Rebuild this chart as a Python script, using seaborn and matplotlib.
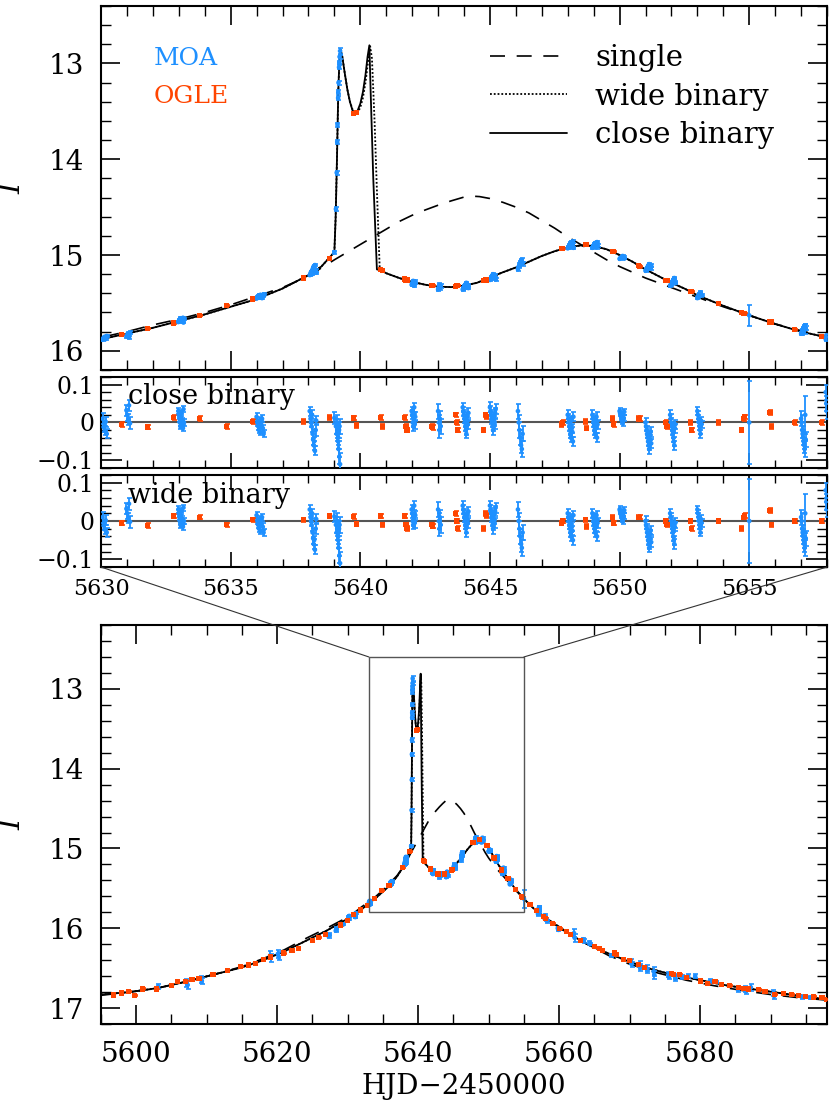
import matplotlib
matplotlib.use("Agg")
import matplotlib.pyplot as plt
from matplotlib.patches import Rectangle, ConnectionPatch
from matplotlib.ticker import MultipleLocator, FuncFormatter
import seaborn as sns

MOA_COLOR = "#1e90ff"
OGLE_COLOR = "#ff4500"

# ---- model light curves (HJD-2450000, I mag) -------------------------------
single_t = [5595, 5599, 5603, 5607, 5611, 5615, 5618, 5621, 5624, 5627,
            5630, 5631, 5632, 5633, 5634, 5635, 5636, 5637, 5638, 5639,
            5640, 5641, 5641.5, 5642, 5642.5, 5643, 5643.5, 5644, 5644.3, 5644.6,
            5645, 5645.5, 5646, 5646.5, 5647, 5647.5, 5648, 5648.5, 5649, 5649.5,
            5650, 5651, 5652, 5653, 5654, 5655, 5656, 5657, 5658, 5661,
            5664, 5667, 5670, 5674, 5678, 5682, 5686, 5690, 5694, 5698]
single_mag = [16.84, 16.80, 16.75, 16.67, 16.58, 16.48, 16.38, 16.27, 16.13, 16.00,
              15.86, 15.80, 15.73, 15.67, 15.60, 15.52, 15.43, 15.34, 15.22, 15.05,
              14.89, 14.73, 14.65, 14.585, 14.53, 14.48, 14.435, 14.395, 14.385, 14.39,
              14.41, 14.45, 14.50, 14.56, 14.64, 14.72, 14.81, 14.89, 14.97, 15.05,
              15.12, 15.24, 15.34, 15.44, 15.54, 15.63, 15.72, 15.79, 15.86, 16.04,
              16.20, 16.34, 16.45, 16.56, 16.65, 16.72, 16.78, 16.83, 16.87, 16.90]

close_t = [5595, 5599, 5603, 5607, 5611, 5615, 5618, 5621, 5624, 5627,
           5630, 5631, 5632, 5633, 5634, 5635, 5636, 5637, 5638, 5638.5,
           5639.0, 5639.05, 5639.1, 5639.15, 5639.2, 5639.23, 5639.3, 5639.4, 5639.5, 5639.6,
           5639.7, 5639.8, 5639.9, 5640.0, 5640.1, 5640.2, 5640.28, 5640.35, 5640.4, 5640.5,
           5640.64, 5640.8, 5641, 5641.5, 5642, 5642.5, 5643, 5643.5, 5644, 5644.5,
           5645, 5645.5, 5646, 5646.5, 5647, 5647.5, 5648, 5648.5, 5649, 5649.5,
           5650, 5650.5, 5651, 5651.5, 5652, 5652.5, 5653, 5654, 5655, 5656,
           5657, 5658, 5660, 5662, 5664, 5666, 5668, 5670, 5673, 5676,
           5680, 5684, 5688, 5692, 5695, 5698]
close_mag = [16.83, 16.80, 16.75, 16.67, 16.58, 16.49, 16.40, 16.29, 16.16, 16.03,
             15.88, 15.82, 15.76, 15.69, 15.62, 15.54, 15.46, 15.35, 15.21, 15.12,
             14.97, 14.60, 14.00, 13.30, 12.92, 12.85, 12.92, 13.10, 13.27, 13.40,
             13.49, 13.52, 13.49, 13.42, 13.30, 13.12, 12.93, 12.81, 13.30, 14.20,
             15.15, 15.16, 15.19, 15.24, 15.28, 15.31, 15.33, 15.335, 15.32, 15.29,
             15.235, 15.18, 15.13, 15.07, 15.01, 14.96, 14.92, 14.90, 14.905, 14.94,
             15.00, 15.07, 15.15, 15.22, 15.29, 15.35, 15.42, 15.53, 15.63, 15.72,
             15.80, 15.86, 15.99, 16.10, 16.20, 16.28, 16.35, 16.42, 16.51, 16.58,
             16.65, 16.72, 16.77, 16.82, 16.86, 16.89]

# wide binary only departs from the close one across the caustic
wide_caustic_t = [5639.0, 5639.05, 5639.1, 5639.15, 5639.2, 5639.24, 5639.3, 5639.4, 5639.5, 5639.6,
                  5639.7, 5639.8, 5639.9, 5640.0, 5640.1, 5640.2, 5640.3, 5640.38, 5640.45, 5640.55,
                  5640.65, 5640.75, 5640.9]
wide_caustic_mag = [14.97, 14.60, 14.00, 13.30, 12.93, 12.86, 12.92, 13.10, 13.27, 13.40,
                    13.48, 13.52, 13.51, 13.46, 13.36, 13.20, 12.98, 12.82, 12.95, 13.60,
                    14.40, 15.15, 15.17]

# ---- MOA data inside the zoom window (5630-5658) ---------------------------
moa_t = [5630.06, 5630.10, 5630.14, 5630.18, 5630.22,
         5630.98, 5631.02, 5631.05, 5631.08, 5631.12,
         5632.98, 5633.00, 5633.02, 5633.04, 5633.06, 5633.08, 5633.10, 5633.12, 5633.14, 5633.16, 5633.18, 5633.20,
         5636.00, 5636.03, 5636.06, 5636.09, 5636.12, 5636.15, 5636.18, 5636.21, 5636.24, 5636.27,
         5638.05, 5638.08, 5638.10, 5638.12, 5638.14, 5638.16, 5638.18, 5638.20, 5638.22, 5638.25, 5638.28, 5638.30,
         5639.00, 5639.06, 5639.09, 5639.11, 5639.12, 5639.145, 5639.15, 5639.16, 5639.18, 5639.19, 5639.20, 5639.22,
         5641.98, 5642.00, 5642.02, 5642.04, 5642.06, 5642.08, 5642.10, 5642.12,
         5643.00, 5643.03, 5643.05, 5643.07, 5643.10,
         5643.95, 5643.97, 5643.99, 5644.01, 5644.03, 5644.05, 5644.07, 5644.09, 5644.11, 5644.13, 5644.15, 5644.17,
         5645.00, 5645.02, 5645.04, 5645.06, 5645.08, 5645.10, 5645.12, 5645.14, 5645.16, 5645.18, 5645.20, 5645.22,
         5646.08, 5646.11, 5646.14, 5646.17, 5646.20, 5646.23, 5646.26,
         5648.00, 5648.02, 5648.04, 5648.06, 5648.08, 5648.10, 5648.12, 5648.14, 5648.16, 5648.18, 5648.20, 5648.22,
         5648.95, 5648.97, 5648.99, 5649.01, 5649.03, 5649.05, 5649.07, 5649.09, 5649.11, 5649.13, 5649.15,
         5650.00, 5650.02, 5650.04, 5650.06, 5650.08, 5650.10, 5650.12, 5650.14, 5650.16, 5650.18,
         5651.00, 5651.02, 5651.04, 5651.06, 5651.08, 5651.10, 5651.12, 5651.14, 5651.16, 5651.18, 5651.20, 5651.22,
         5651.95, 5651.97, 5651.99, 5652.01, 5652.03, 5652.05, 5652.07, 5652.09, 5652.11, 5652.13, 5652.15,
         5653.00, 5653.02, 5653.04, 5653.06, 5653.08, 5653.10, 5653.12, 5653.14, 5653.16,
         5655.00,
         5657.00, 5657.02, 5657.04, 5657.06, 5657.08, 5657.10, 5657.12, 5657.14, 5657.16, 5657.18,
         5657.95, 5657.97, 5657.99]
moa_mag = [15.885, 15.863, 15.853, 15.877, 15.845,
           15.85, 15.84, 15.82, 15.86, 15.81,
           15.70, 15.69, 15.68, 15.67, 15.66, 15.685, 15.695, 15.665, 15.675, 15.655, 15.705, 15.67,
           15.455, 15.44, 15.43, 15.42, 15.445, 15.415, 15.435, 15.45, 15.425, 15.41,
           15.21, 15.19, 15.18, 15.17, 15.20, 15.15, 15.135, 15.12, 15.13, 15.105, 15.16, 15.185,
           14.97, 14.52, 14.14, 13.82, 13.64, 13.36, 13.30, 13.20, 13.04, 12.99, 12.93, 12.87,
           15.31, 15.30, 15.28, 15.27, 15.29, 15.32, 15.275, 15.295,
           15.36, 15.33, 15.31, 15.34, 15.32,
           15.36, 15.35, 15.34, 15.33, 15.32, 15.31, 15.30, 15.29, 15.335, 15.325, 15.315, 15.345,
           15.26, 15.25, 15.24, 15.23, 15.22, 15.21, 15.20, 15.235, 15.225, 15.215, 15.245, 15.255,
           15.15, 15.12, 15.10, 15.08, 15.06, 15.05, 15.09,
           14.93, 14.92, 14.91, 14.90, 14.89, 14.88, 14.87, 14.915, 14.895, 14.885, 14.86, 14.925,
           14.925, 14.915, 14.905, 14.895, 14.885, 14.875, 14.91, 14.89, 14.92, 14.865, 14.90,
           15.04, 15.035, 15.03, 15.025, 15.02, 15.015, 15.01, 15.03, 15.022, 15.038,
           15.165, 15.155, 15.145, 15.135, 15.125, 15.115, 15.105, 15.095, 15.13, 15.12, 15.14, 15.11,
           15.32, 15.31, 15.30, 15.29, 15.28, 15.27, 15.26, 15.25, 15.24, 15.285, 15.295,
           15.45, 15.44, 15.43, 15.42, 15.41, 15.40, 15.39, 15.425, 15.415,
           15.63,
           15.82, 15.81, 15.79, 15.78, 15.77, 15.76, 15.75, 15.74, 15.775, 15.765,
           15.88, 15.86, 15.84]
moa_err = [0.014, 0.012, 0.012, 0.013, 0.012,
           0.015, 0.016, 0.014, 0.015, 0.016,
           0.008, 0.008, 0.008, 0.008, 0.008, 0.008, 0.008, 0.008, 0.008, 0.008, 0.008, 0.008,
           0.009, 0.009, 0.009, 0.009, 0.009, 0.009, 0.009, 0.009, 0.009, 0.009,
           0.012, 0.012, 0.012, 0.015, 0.012, 0.012, 0.015, 0.012, 0.012, 0.012, 0.015, 0.012,
           0.015, 0.020, 0.020, 0.020, 0.020, 0.020, 0.020, 0.020, 0.020, 0.020, 0.020, 0.030,
           0.012, 0.012, 0.012, 0.012, 0.012, 0.012, 0.012, 0.012,
           0.020, 0.020, 0.020, 0.020, 0.020,
           0.012, 0.012, 0.012, 0.012, 0.012, 0.012, 0.012, 0.012, 0.012, 0.012, 0.012, 0.012,
           0.013, 0.013, 0.013, 0.013, 0.013, 0.013, 0.013, 0.013, 0.013, 0.013, 0.013, 0.013,
           0.020, 0.020, 0.020, 0.020, 0.020, 0.020, 0.020,
           0.012, 0.012, 0.012, 0.012, 0.012, 0.012, 0.012, 0.012, 0.012, 0.012, 0.012, 0.012,
           0.012, 0.012, 0.012, 0.012, 0.012, 0.012, 0.012, 0.012, 0.012, 0.012, 0.012,
           0.008, 0.008, 0.008, 0.008, 0.008, 0.008, 0.008, 0.008, 0.008, 0.008,
           0.012, 0.012, 0.012, 0.012, 0.012, 0.012, 0.012, 0.012, 0.012, 0.012, 0.012, 0.012,
           0.012, 0.012, 0.012, 0.012, 0.012, 0.012, 0.012, 0.012, 0.012, 0.012, 0.012,
           0.010, 0.010, 0.010, 0.010, 0.010, 0.010, 0.010, 0.010, 0.010,
           0.110,
           0.020, 0.020, 0.020, 0.020, 0.020, 0.020, 0.020, 0.020, 0.050, 0.020,
           0.020, 0.020, 0.020]
# residuals (the close and wide fits leave nearly identical residuals)
moa_res = [0.010, -0.012, -0.022, 0.002, -0.030,
           0.032, 0.020, 0.008, 0.045, -0.002,
           0.030, 0.020, 0.010, 0.000, -0.010, 0.015, 0.025, -0.005, 0.005, -0.015, 0.035, 0.000,
           0.015, 0.000, -0.010, -0.020, 0.005, -0.025, -0.005, 0.010, -0.015, -0.030,
           0.030, 0.010, 0.000, -0.010, 0.020, -0.030, -0.045, -0.060, -0.050, -0.075, -0.020, 0.005,
           0.012, -0.010, -0.030, -0.020, 0.000, -0.050, -0.040, -0.070, -0.020, -0.090, -0.010, -0.110,
           0.030, 0.020, 0.000, -0.010, 0.010, 0.040, -0.005, 0.015,
           0.030, 0.000, -0.020, 0.010, -0.010,
           0.040, 0.030, 0.020, 0.010, 0.000, -0.010, -0.020, -0.030, 0.015, 0.005, -0.005, 0.025,
           0.040, 0.030, 0.020, 0.010, 0.000, -0.010, -0.020, 0.015, 0.005, -0.005, 0.025, 0.035,
           0.030, 0.000, -0.020, -0.040, -0.060, -0.070, -0.030,
           0.020, 0.010, 0.000, -0.010, -0.020, -0.030, -0.040, 0.005, -0.015, -0.025, -0.050, 0.015,
           0.020, 0.010, 0.000, -0.010, -0.020, -0.030, 0.005, -0.015, 0.015, -0.040, -0.005,
           0.030, 0.025, 0.020, 0.015, 0.010, 0.005, 0.000, 0.020, 0.012, 0.028,
           0.000, -0.010, -0.020, -0.030, -0.040, -0.050, -0.060, -0.070, -0.035, -0.045, -0.025, -0.055,
           0.020, 0.010, 0.000, -0.010, -0.020, -0.030, -0.040, -0.050, -0.060, -0.015, -0.005,
           0.030, 0.020, 0.010, 0.000, -0.010, -0.020, -0.030, 0.005, -0.005,
           0.000,
           0.010, 0.000, -0.020, -0.030, -0.040, -0.050, -0.060, -0.070, 0.020, -0.045,
           0.080, 0.050, 0.030]

# ---- MOA data outside the zoom window --------------------------------------
moa_far_t = [5603.1, 5607.1, 5607.3, 5609.2, 5609.3, 5619.0, 5619.1, 5620.1, 5620.2, 5627.3,
             5627.4, 5628.3, 5628.4, 5629.4,
             5658.2, 5658.3, 5659.8, 5659.9, 5662.1, 5662.2, 5663.4, 5663.5, 5664.3, 5664.4,
             5667.4, 5670.2, 5670.3, 5671.4, 5671.5, 5672.4, 5672.5, 5673.4, 5673.5, 5675.5,
             5675.6, 5676.4, 5676.5, 5677.4, 5678.3, 5679.3, 5681.4, 5682.3, 5685.4, 5686.4,
             5686.5, 5687.2, 5690.4, 5690.5, 5694.4, 5695.6]
moa_far_mag = [16.73, 16.68, 16.71, 16.64, 16.66, 16.34, 16.37, 16.32, 16.35, 16.10,
               16.08, 16.03, 16.01, 15.95,
               15.89, 15.91, 16.00, 16.02, 16.06, 16.12, 16.14, 16.16, 16.18, 16.20,
               16.34, 16.42, 16.45, 16.46, 16.49, 16.50, 16.53, 16.54, 16.58, 16.58,
               16.61, 16.60, 16.63, 16.61, 16.60, 16.60, 16.66, 16.67, 16.77, 16.76,
               16.79, 16.74, 16.81, 16.85, 16.86, 16.87]
moa_far_err = [0.03, 0.05, 0.05, 0.04, 0.04, 0.05, 0.05, 0.05, 0.05, 0.02,
               0.02, 0.02, 0.02, 0.015,
               0.02, 0.02, 0.02, 0.02, 0.05, 0.05, 0.02, 0.02, 0.015, 0.015,
               0.015, 0.03, 0.03, 0.05, 0.04, 0.04, 0.03, 0.06, 0.05, 0.03,
               0.03, 0.03, 0.03, 0.02, 0.025, 0.025, 0.02, 0.015, 0.025, 0.04,
               0.03, 0.04, 0.04, 0.03, 0.025, 0.02]

# ---- OGLE data inside the zoom window --------------------------------------
ogle_t = [5630.80, 5631.80, 5632.80, 5633.80, 5634.85, 5635.85, 5637.80, 5638.80, 5639.75, 5639.85,
          5640.78, 5640.85, 5641.72, 5641.76, 5641.80, 5642.75, 5642.80, 5643.68, 5643.72, 5643.76,
          5644.75, 5644.82, 5644.86, 5647.75, 5647.80, 5648.68, 5648.72, 5649.72, 5649.78, 5650.72,
          5650.78, 5651.78, 5651.83, 5652.72, 5652.78, 5653.80, 5654.70, 5654.78, 5654.83, 5655.80,
          5655.85, 5656.75, 5657.80]
ogle_mag = [15.83, 15.77, 15.71, 15.63, 15.53, 15.46, 15.24, 15.04, 13.52, 13.51,
            15.15, 15.16, 15.25, 15.26, 15.26, 15.32, 15.32, 15.33, 15.32, 15.32,
            15.27, 15.26, 15.26, 14.93, 14.93, 14.89, 14.89, 14.96, 14.96, 15.11,
            15.12, 15.27, 15.27, 15.38, 15.38, 15.51, 15.60, 15.61, 15.61, 15.70,
            15.70, 15.78, 15.85]
ogle_res = [-0.005, -0.012, 0.013, 0.010, -0.010, 0.003, 0.003, 0.013, 0.012, -0.008,
            0.013, -0.010, 0.013, -0.010, -0.020, -0.010, -0.013, 0.020, 0.000, -0.020,
            -0.020, 0.020, 0.015, -0.005, 0.000, 0.003, -0.015, 0.010, -0.005, 0.010,
            0.010, 0.000, -0.010, 0.000, -0.020, 0.000, -0.020, 0.010, 0.015, 0.027,
            -0.010, 0.000, 0.000]
OGLE_ERR = 0.006

# ---- OGLE data outside the zoom window -------------------------------------
ogle_far_t = [5596.75, 5597.9, 5598.9, 5599.8, 5600.9, 5602.9, 5605.0, 5605.8, 5607.0, 5607.9,
              5608.9, 5610.9, 5612.9, 5614.8, 5615.9, 5616.9, 5618.0, 5619.0, 5620.9, 5622.1,
              5623.0, 5625.0, 5625.9, 5626.9, 5629.0, 5629.95,
              5658.1, 5659.1, 5660.05, 5661.0, 5661.6, 5663.0, 5665.0, 5665.7, 5666.1, 5667.8,
              5668.1, 5669.1, 5670.0, 5671.2, 5672.1, 5675.9, 5676.2, 5677.1, 5678.1, 5680.0,
              5681.1, 5682.1, 5683.0, 5684.2, 5685.4, 5686.1, 5686.9, 5688.3, 5689.2, 5690.6,
              5691.8, 5693.0, 5694.0, 5694.9, 5696.1, 5697.3, 5698.0]
ogle_far_mag = [16.835, 16.81, 16.79, 16.84, 16.76, 16.76, 16.72, 16.67, 16.67, 16.64,
                16.63, 16.58, 16.53, 16.48, 16.46, 16.44, 16.39, 16.36, 16.31, 16.28,
                16.25, 16.15, 16.12, 16.08, 15.96, 15.90,
                15.88, 15.94, 16.00, 16.04, 16.08, 16.15, 16.23, 16.25, 16.28, 16.31,
                16.33, 16.39, 16.40, 16.45, 16.49, 16.57, 16.58, 16.58, 16.62, 16.66,
                16.69, 16.67, 16.70, 16.72, 16.74, 16.75, 16.76, 16.77, 16.79, 16.83,
                16.82, 16.83, 16.84, 16.85, 16.86, 16.87, 16.89]

# zoom window drawn on the bottom panel
ZOOM_BOX_T = [5633, 5655]
ZOOM_BOX_MAG = [12.6, 15.8]


def draw_models(ax, with_labels=False):
    wide_t = [t for t in close_t if t < wide_caustic_t[0]] + wide_caustic_t + \
             [t for t in close_t if t > wide_caustic_t[-1]]
    wide_mag = [m for t, m in zip(close_t, close_mag) if t < wide_caustic_t[0]] + wide_caustic_mag + \
               [m for t, m in zip(close_t, close_mag) if t > wide_caustic_t[-1]]
    sns.lineplot(x=single_t, y=single_mag, ax=ax, sort=False, estimator=None, color="black",
                 lw=1.2, linestyle=(0, (9, 7)), label="single" if with_labels else None,
                 legend=with_labels, zorder=2)
    sns.lineplot(x=wide_t, y=wide_mag, ax=ax, sort=False, estimator=None, color="black",
                 lw=1.3, linestyle=(0, (1, 1.1)), label="wide binary" if with_labels else None,
                 legend=with_labels, zorder=2)
    sns.lineplot(x=close_t, y=close_mag, ax=ax, sort=False, estimator=None, color="black",
                 lw=1.3, label="close binary" if with_labels else None,
                 legend=with_labels, zorder=2)


def draw_points(ax, t_moa, y_moa, e_moa, t_ogle, y_ogle, e_ogle):
    ax.errorbar(t_moa, y_moa, yerr=e_moa, fmt="none", ecolor=MOA_COLOR, elinewidth=1.3,
                capsize=1.8, capthick=1.2, zorder=3)
    sns.scatterplot(x=t_moa, y=y_moa, ax=ax, color=MOA_COLOR, s=11, marker="o",
                    edgecolor="none", linewidth=0, legend=False, zorder=4)
    ax.errorbar(t_ogle, y_ogle, yerr=e_ogle, fmt="none", ecolor=OGLE_COLOR, elinewidth=1.2,
                capsize=1.8, capthick=1.2, zorder=3)
    sns.scatterplot(x=t_ogle, y=y_ogle, ax=ax, color=OGLE_COLOR, s=14, marker="s",
                    edgecolor="none", linewidth=0, legend=False, zorder=4)


def style_axis(ax, xmaj, xmin, ymaj, ymin, big=True):
    ax.xaxis.set_major_locator(MultipleLocator(xmaj))
    ax.xaxis.set_minor_locator(MultipleLocator(xmin))
    ax.yaxis.set_major_locator(MultipleLocator(ymaj))
    ax.yaxis.set_minor_locator(MultipleLocator(ymin))
    ax.tick_params(which="both", direction="in", top=True, right=True, color="black",
                   labelcolor="black")
    if big:
        ax.tick_params(axis="both", which="major", length=14, width=1.2, labelsize=20)
        ax.tick_params(axis="both", which="minor", length=7, width=1.0)
    else:
        ax.tick_params(axis="x", which="major", length=11, width=1.2, labelsize=16)
        ax.tick_params(axis="x", which="minor", length=5.5, width=1.0)
        ax.tick_params(axis="y", which="major", length=15, width=1.2, labelsize=17, pad=5)
        ax.tick_params(axis="y", which="minor", length=7, width=1.0)
    for sp in ax.spines.values():
        sp.set_linewidth(1.5)
        sp.set_color("black")
    ax.set_xlabel("")
    ax.set_ylabel("")


def fmt_res(v, pos):
    v = round(v, 2)
    if abs(v) < 1e-9:
        return "0"
    return f"{v:g}".replace("-", "\u2212")


sns.set_theme(style="ticks")
plt.rcParams["font.family"] = ["DejaVu Serif"]
plt.rcParams["mathtext.fontset"] = "dejavuserif"
plt.rcParams["axes.unicode_minus"] = True
plt.rcParams["text.color"] = "black"
plt.rcParams["axes.labelcolor"] = "black"
plt.rcParams["xtick.color"] = "black"
plt.rcParams["ytick.color"] = "black"

fig = plt.figure(figsize=(8.30, 11.09), dpi=100)
ax_top = fig.add_axes([0.1217, 0.6664, 0.8747, 0.3282])
ax_r1 = fig.add_axes([0.1217, 0.5780, 0.8747, 0.0821])
ax_r2 = fig.add_axes([0.1217, 0.4887, 0.8747, 0.0830])
ax_bot = fig.add_axes([0.1217, 0.0766, 0.8747, 0.3598])

all_moa_t = moa_far_t + moa_t
all_moa_mag = moa_far_mag + moa_mag
all_moa_err = moa_far_err + moa_err
all_ogle_t = ogle_far_t + ogle_t
all_ogle_mag = ogle_far_mag + ogle_mag

# --- top: zoomed light curve ---
draw_models(ax_top, with_labels=True)
draw_points(ax_top, moa_t, moa_mag, moa_err, ogle_t, ogle_mag, [OGLE_ERR] * len(ogle_t))
ax_top.set_xlim(5630, 5658)
ax_top.set_ylim(16.2, 12.4)
style_axis(ax_top, 5, 1, 1, 0.2)
ax_top.tick_params(labelbottom=False, pad=12)
ax_top.set_ylabel("I", fontsize=21, fontstyle="italic", labelpad=16)
ax_top.text(0.073, 0.838, "MOA", transform=ax_top.transAxes, color=MOA_COLOR,
            fontsize=18, va="baseline", ha="left")
ax_top.text(0.073, 0.734, "OGLE", transform=ax_top.transAxes, color=OGLE_COLOR,
            fontsize=18, va="baseline", ha="left")
ax_top.legend(loc="upper left", bbox_to_anchor=(0.536, 0.895), frameon=False, fontsize=21,
              handlelength=2.64, handletextpad=0.96, labelspacing=0.36, borderpad=0,
              borderaxespad=0)

# --- residual panels ---
for ax, label in [(ax_r1, "close binary"), (ax_r2, "wide binary")]:
    ax.axhline(0, color="#555555", lw=1.5, zorder=1)
    draw_points(ax, moa_t, moa_res, moa_err, ogle_t, ogle_res, [OGLE_ERR] * len(ogle_t))
    ax.set_xlim(5630, 5658)
    ax.set_ylim(-0.12, 0.12)
    style_axis(ax, 5, 1, 0.1, 0.02, big=False)
    ax.yaxis.set_major_formatter(FuncFormatter(fmt_res))
    ax.text(0.037, 0.70, label, transform=ax.transAxes, fontsize=19.5, va="baseline", ha="left")
ax_r1.tick_params(labelbottom=False)
ax_r2.tick_params(axis="x", pad=8)

# --- bottom: full light curve ---
draw_models(ax_bot)
draw_points(ax_bot, all_moa_t, all_moa_mag, all_moa_err, all_ogle_t, all_ogle_mag,
            [OGLE_ERR] * len(all_ogle_t))
ax_bot.set_xlim(5595, 5698)
ax_bot.set_ylim(17.2, 12.2)
style_axis(ax_bot, 20, 5, 1, 0.2)
ax_bot.tick_params(pad=12)
ax_bot.set_ylabel("I", fontsize=21, fontstyle="italic", labelpad=16)
ax_bot.set_xlabel("HJD\u22122450000", fontsize=20, labelpad=4)

box = Rectangle((ZOOM_BOX_T[0], ZOOM_BOX_MAG[0]), ZOOM_BOX_T[1] - ZOOM_BOX_T[0],
                ZOOM_BOX_MAG[1] - ZOOM_BOX_MAG[0], fill=False, edgecolor="#555555",
                lw=1.0, zorder=5)
ax_bot.add_patch(box)
for xa, xb in [(0, ZOOM_BOX_T[0]), (1, ZOOM_BOX_T[1])]:
    con = ConnectionPatch(xyA=(xa, 0), coordsA=ax_r2.transAxes,
                          xyB=(xb, ZOOM_BOX_MAG[0]), coordsB=ax_bot.transData,
                          color="#333333", lw=0.8)
    fig.add_artist(con)

fig.savefig("out.png", dpi=100)
